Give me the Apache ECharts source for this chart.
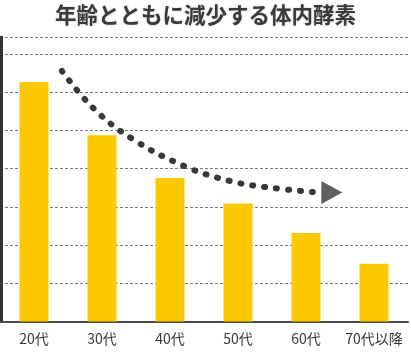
<!DOCTYPE html>
<html>
<head>
<meta charset="utf-8">
<script src="https://cdn.jsdelivr.net/npm/echarts@6/dist/echarts.min.js"></script>
<style>
html,body{margin:0;padding:0;background:#fff;}
#c{width:411px;height:359px;}
</style>
</head>
<body>
<div id="c"></div>
<script>
const titleText = '年齢とともに減少する体内酵素';
const categories = ['20代', '30代', '40代', '50代', '60代', '70代以降'];
const enzymeValues = [62.7, 48.8, 37.6, 30.9, 23.2, 15.1];
// decorative trend arrow path (x in category index, y in value units)
const trendX = [0.41, 0.87, 1.43, 2.21, 2.88, 3.40, 4.10];
const trendY = [65.6, 55.9, 48.0, 40.7, 36.8, 35.2, 33.9];
const arrowHead = [4.38, 33.8];

const chart = echarts.init(document.getElementById('c'));
const FONT = '"Noto Sans CJK JP", "Noto Sans", sans-serif';
chart.setOption({
  animation: false,
  title: {
    text: titleText,
    left: 'center',
    top: -1,
    textStyle: {
      fontFamily: FONT, fontSize: 21.5, fontWeight: 'bold', color: '#3a3a3a',
      textShadowColor: 'rgba(0,0,0,0.25)', textShadowBlur: 2
    }
  },
  grid: { left: 0, right: 3, top: 37, bottom: 37.5, containLabel: false },
  xAxis: [
    {
      type: 'category', data: categories, position: 'bottom',
      axisLine: { show: true, onZero: false, lineStyle: { color: '#4a4a4a', width: 2 } },
      axisTick: { show: false },
      axisLabel: { fontFamily: FONT, fontSize: 14, color: '#3a3a3a', margin: 10, interval: 0 },
      splitLine: { show: false }
    },
    {
      type: 'value', min: -0.5, max: 5.5, show: false, position: 'top'
    }
  ],
  yAxis: {
    type: 'value', min: 0, max: 74.5, interval: 10, offset: -1.5,
    axisLine: { show: true, onZero: false, lineStyle: { color: '#333', width: 3 } },
    axisTick: { show: false },
    axisLabel: { show: false },
    splitLine: { show: true, lineStyle: { color: '#7a7a7a', width: 1, type: [3, 2] } }
  },
  series: [
    {
      type: 'bar', data: enzymeValues, barWidth: 29,
      itemStyle: { color: '#FBC900' }, z: 2
    },
    {
      type: 'line', xAxisIndex: 1,
      data: trendX.map((x, i) => [x, trendY[i]]),
      smooth: 0.4, symbol: 'none',
      lineStyle: { color: '#383838', width: 6, type: [1, 11], cap: 'round' },
      z: 5
    },
    {
      type: 'scatter', xAxisIndex: 1,
      data: [arrowHead],
      symbol: 'triangle', symbolSize: [23, 21], symbolRotate: -90,
      itemStyle: { color: '#383838' }, z: 6
    }
  ]
});
</script>
</body>
</html>
